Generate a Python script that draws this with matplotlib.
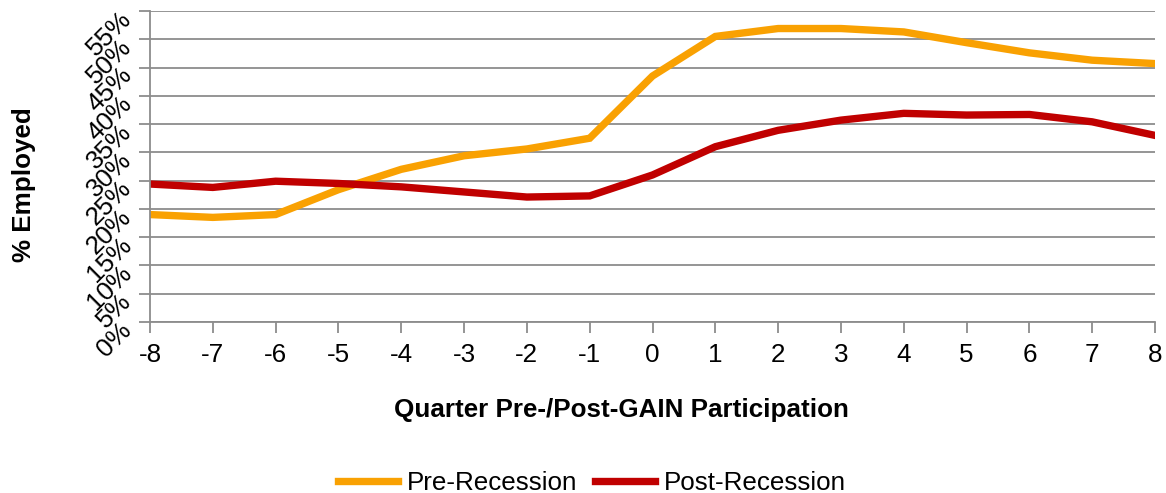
import matplotlib.pyplot as plt
from matplotlib.ticker import PercentFormatter
from matplotlib.transforms import ScaledTranslation

plt.rcParams['font.family'] = ['Liberation Sans', 'DejaVu Sans']
plt.rcParams['axes.unicode_minus'] = False

# Data
quarters = [-8, -7, -6, -5, -4, -3, -2, -1, 0, 1, 2, 3, 4, 5, 6, 7, 8]
pre_recession = [19.0, 18.5, 19.0, 23.4, 27.0, 29.4, 30.6, 32.5, 43.5,
                 50.5, 51.9, 51.9, 51.3, 49.4, 47.6, 46.3, 45.7]
post_recession = [24.4, 23.8, 24.9, 24.5, 23.9, 23.0, 22.1, 22.3, 26.0,
                  31.0, 33.9, 35.7, 36.9, 36.6, 36.7, 35.4, 33.0]
y_ticks = list(range(0, 56, 5))

grid_col = '#8c8c8c'
fs = 18.7

fig = plt.figure(figsize=(11.66, 4.93), dpi=100)
ax = fig.add_axes([150 / 1166, 1 - 322 / 493, 1005 / 1166, 311 / 493])

ax.plot(quarters, pre_recession, color='#F9A102', linewidth=5.3,
        label='Pre-Recession', solid_joinstyle='miter')
ax.plot(quarters, post_recession, color='#C00000', linewidth=5.3,
        label='Post-Recession', solid_joinstyle='miter')

ax.set_xlim(-8, 8)
ax.set_ylim(0, 55)
ax.set_xticks(quarters)
ax.set_yticks(y_ticks)
ax.yaxis.set_major_formatter(PercentFormatter(decimals=0))

ax.grid(axis='y', color=grid_col, linewidth=1.3)
ax.set_axisbelow(True)
for s in ['top', 'right']:
    ax.spines[s].set_visible(False)
for s in ['left', 'bottom']:
    ax.spines[s].set_color(grid_col)
    ax.spines[s].set_linewidth(1.3)

ax.tick_params(axis='x', length=8, width=1.3, color=grid_col, labelsize=fs, pad=7)
ax.tick_params(axis='y', length=8, width=1.3, color=grid_col, labelsize=fs, pad=8)
# nudge the rotated y labels a little down, like the reference
shift = ScaledTranslation(0, -3 / 72, fig.dpi_scale_trans)
for lab in ax.get_yticklabels():
    lab.set_rotation(45)
    lab.set_rotation_mode('anchor')
    lab.set_ha('right')
    lab.set_va('center')
    lab.set_transform(lab.get_transform() + shift)

fig.text(621 / 1166, 1 - 410 / 493, 'Quarter Pre-/Post-GAIN Participation',
         ha='center', va='center', fontsize=fs, fontweight='bold')
fig.text(24 / 1166, 1 - 185 / 493, '% Employed', rotation=90,
         ha='center', va='center', fontsize=fs, fontweight='bold')

fig.legend(loc='center', bbox_to_anchor=(592 / 1166, 1 - 483 / 493), ncol=2,
           frameon=False, fontsize=fs, handlelength=2.3, handletextpad=0.35,
           columnspacing=0.7)

fig.savefig('out.png', dpi=100)
